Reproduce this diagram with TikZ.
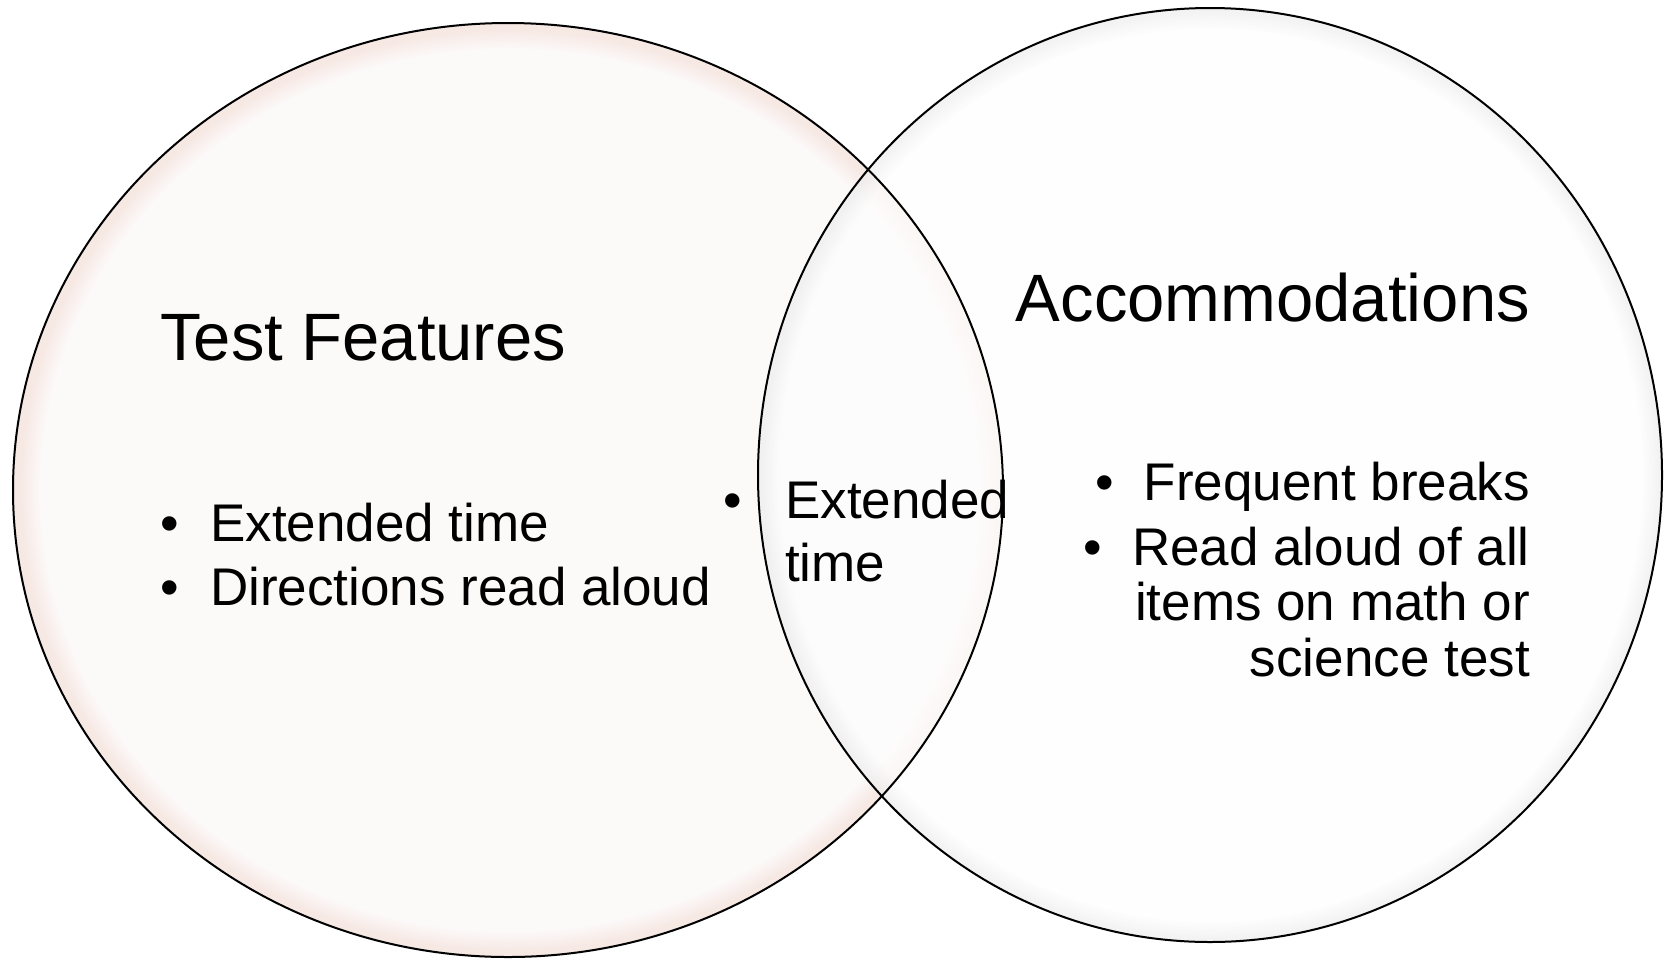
\documentclass[tikz,border=0pt]{standalone}
\usepackage{fontspec}
\setmainfont{Liberation Sans}
\definecolor{lfill}{RGB}{252,249,249}
\definecolor{lrim}{RGB}{246,232,227}
\definecolor{rfill}{RGB}{254,254,254}
\definecolor{rrim}{RGB}{238,238,238}
\pgfdeclareradialshading{lglow}{\pgfpoint{0bp}{0bp}}{color(0bp)=(lfill); color(23.6bp)=(lfill); color(24.7bp)=(lrim); color(25bp)=(lrim); color(50bp)=(lrim)}
\pgfdeclareradialshading{rglow}{\pgfpoint{0bp}{0bp}}{color(0bp)=(rfill); color(23.8bp)=(rfill); color(24.8bp)=(rrim); color(25bp)=(rrim); color(50bp)=(rrim)}
\newcommand{\headfont}{\fontsize{67}{74}\selectfont}
\newcommand{\bodyfont}{\fontsize{53}{60}\selectfont}
\begin{document}
\begin{tikzpicture}[x=1pt,y=-1pt,
  outline/.style={draw=black, line width=2pt},
  head/.style={inner sep=0pt, font=\headfont},
  item/.style={inner sep=0pt, font=\bodyfont},
  bul/.style={inner sep=0pt, font=\bodyfont, anchor=base}]
\useasboundingbox (0,0) rectangle (1669,959);
% circles
\path[shading=lglow] (508,490) ellipse [x radius=495, y radius=467];
\path[shading=rglow, fill opacity=0.7] (1210,475) ellipse [x radius=452, y radius=467];
\path[outline] (508,490) ellipse [x radius=495, y radius=467];
\path[outline] (1210,475) ellipse [x radius=452, y radius=467];
% headings
\node[head, anchor=base west] (tf) at (160,360) {Test Features};
\node[head, anchor=base east] (acc) at (1530,321) {Accommodations};
% left list
\node[bul] (lb1) at (170,541) {•};
\node[item, anchor=base west] (l1) at (210,541) {Extended time};
\node[bul] (lb2) at (170,605) {•};
\node[item, anchor=base west] (l2) at (210,605) {Directions read aloud};
% middle
\node[bul] (mb1) at (733,518) {•};
\node[item, anchor=base west] (m1) at (785,518) {Extended};
\node[item, anchor=base west] (m2) at (785,581) {time};
% right list
\node[bul] (rb1) at (1105,500) {•};
\node[item, anchor=base east] (r1) at (1530,500) {Frequent breaks};
\node[bul] (rb2) at (1093,565) {•};
\node[item, anchor=base east] (r2) at (1530,565) {Read aloud of all};
\node[item, anchor=base east] (r3) at (1530,620) {items on math or};
\node[item, anchor=base east] (r4) at (1530,676) {science test};
\end{tikzpicture}
\end{document}
